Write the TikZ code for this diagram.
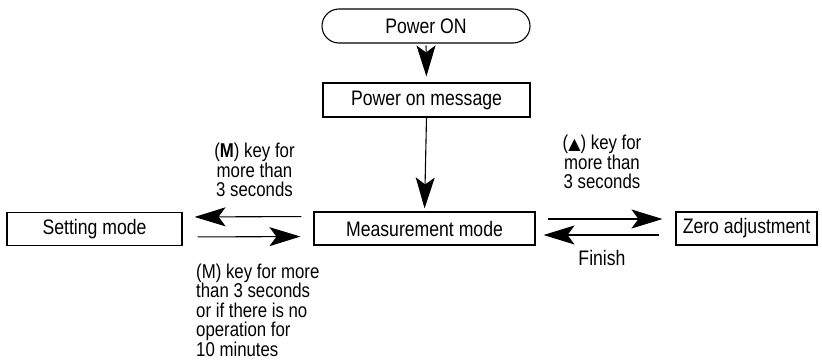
\documentclass[tikz,border=0pt]{standalone}
\usepackage{fontspec}
\setmainfont{Liberation Sans}[FakeStretch=0.84]
\newfontfamily\symfont{DejaVu Sans}
\usetikzlibrary{arrows.meta}

\begin{document}
\begin{tikzpicture}[x=1pt,y=-1pt,
	every node/.style={font=\fontsize{21}{19}\selectfont},
	lbl/.style={font=\fontsize{20}{19.2}\selectfont,inner sep=1pt},
	box/.style={draw,line width=1.1pt,minimum height=33pt,inner sep=0pt},
	arr/.style={line width=1.1pt,-{Stealth[length=31pt,width=19pt,inset=7pt]}}]
	\useasboundingbox (0,0) rectangle (822,364);
	% boxes
	\node[box,rounded corners=17pt,minimum width=208pt,minimum height=34pt] (pon) at (426,26) {Power ON};
	\node[box,minimum width=207pt,minimum height=34pt] (msg) at (426.5,100) {Power on message};
	\node[box,minimum width=221pt] (meas) at (424.5,228.5) {Measurement mode};
	\node[box,minimum width=175pt] (set) at (94.5,229) {Setting mode};
	\node[box,minimum width=141pt] (zero) at (746.5,228.5) {Zero adjustment};
	% arrows
	\draw[arr,shorten <=2pt,shorten >=6pt] (pon.south) -- (msg.north);
	\draw[arr,shorten >=3pt] (msg.south) -- (meas.north);
	\draw[arr,shorten <=12pt,shorten >=12pt] ([yshift=12pt]meas.west) -- ([yshift=12pt]set.east);
	\draw[arr,shorten <=15pt,shorten >=13pt] ([yshift=-8pt]set.east) -- ([yshift=-8pt]meas.west);
	\draw[arr,shorten <=12pt,shorten >=13pt] ([yshift=9.5pt]meas.east) -- ([yshift=9.5pt]zero.west);
	\draw[arr,shorten <=16pt,shorten >=8pt] ([yshift=-6.5pt]zero.west) -- ([yshift=-6.5pt]meas.east);
	% labels
	\node[lbl,align=center] (lbl1) at (254.5,170) {(\textbf{M}) key for\\more than\\3 seconds};
	\node[lbl,align=left,anchor=north west] (lbl2) at (195,263) {(M) key for more\\than 3 seconds\\or if there is no\\operation for\\[1pt]10 minutes};
	\node[lbl,align=center] (lbl3) at (602,162) {({\symfont\fontsize{16}{19}\selectfont ▲}) key for\\more than\\3 seconds};
	\node (lbl4) at (602,258) {Finish};
\end{tikzpicture}
\end{document}
